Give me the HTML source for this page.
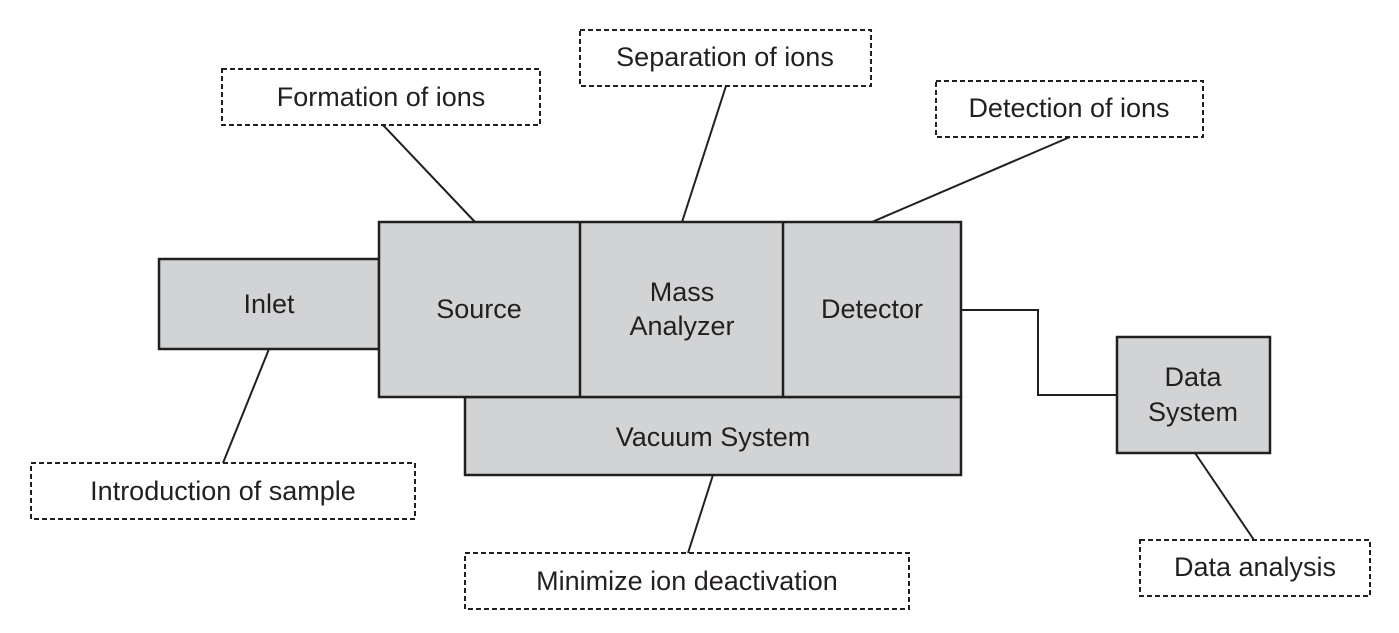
<!DOCTYPE html>
<html><head><meta charset="utf-8"><style>
html,body{margin:0;padding:0;background:#fff;}
svg{display:block;}
text{font-family:"Liberation Sans",Arial,sans-serif;font-size:27px;fill:#231f20;}
</style></head><body>
<svg width="1399" height="633" viewBox="0 0 1399 633" xmlns="http://www.w3.org/2000/svg">
<g stroke="#231f20" stroke-width="2" fill="none">
<line x1="383" y1="125" x2="475" y2="222"/>
<line x1="726" y1="86" x2="682" y2="222"/>
<line x1="1070" y1="137" x2="872" y2="222"/>
<line x1="269" y1="349" x2="223" y2="463"/>
<line x1="713" y1="475" x2="688" y2="553"/>
<line x1="1195" y1="453" x2="1254" y2="540"/>
<polyline points="961,310 1038,310 1038,395 1117,395"/>
</g>
<g stroke="#231f20" stroke-width="2.5" fill="#d1d3d4">
<rect x="159" y="259" width="220" height="90"/>
<rect x="465" y="397" width="496" height="78"/>
<rect x="379" y="222" width="582" height="175"/>
<rect x="1117" y="337" width="153" height="116"/>
<line x1="580" y1="222" x2="580" y2="397"/>
<line x1="783" y1="222" x2="783" y2="397"/>
</g>
<g stroke="#231f20" stroke-width="2" fill="#fff" stroke-dasharray="5,3">
<rect x="222" y="69" width="318" height="56"/>
<rect x="580" y="30" width="291" height="56"/>
<rect x="936" y="81" width="267" height="56"/>
<rect x="31" y="463" width="384" height="56"/>
<rect x="465" y="553" width="444" height="56"/>
<rect x="1140" y="540" width="230" height="56"/>
</g>
<g text-anchor="middle">
<text x="381" y="106">Formation of ions</text>
<text x="725" y="66">Separation of ions</text>
<text x="1069" y="117">Detection of ions</text>
<text x="223" y="500">Introduction of sample</text>
<text x="687" y="590">Minimize ion deactivation</text>
<text x="1255" y="576">Data analysis</text>
<text x="269" y="313">Inlet</text>
<text x="479" y="318">Source</text>
<text x="682" y="301">Mass</text>
<text x="682" y="335">Analyzer</text>
<text x="872" y="318">Detector</text>
<text x="713" y="446">Vacuum System</text>
<text x="1193" y="386">Data</text>
<text x="1193" y="421">System</text>
</g>
</svg>
</body></html>
